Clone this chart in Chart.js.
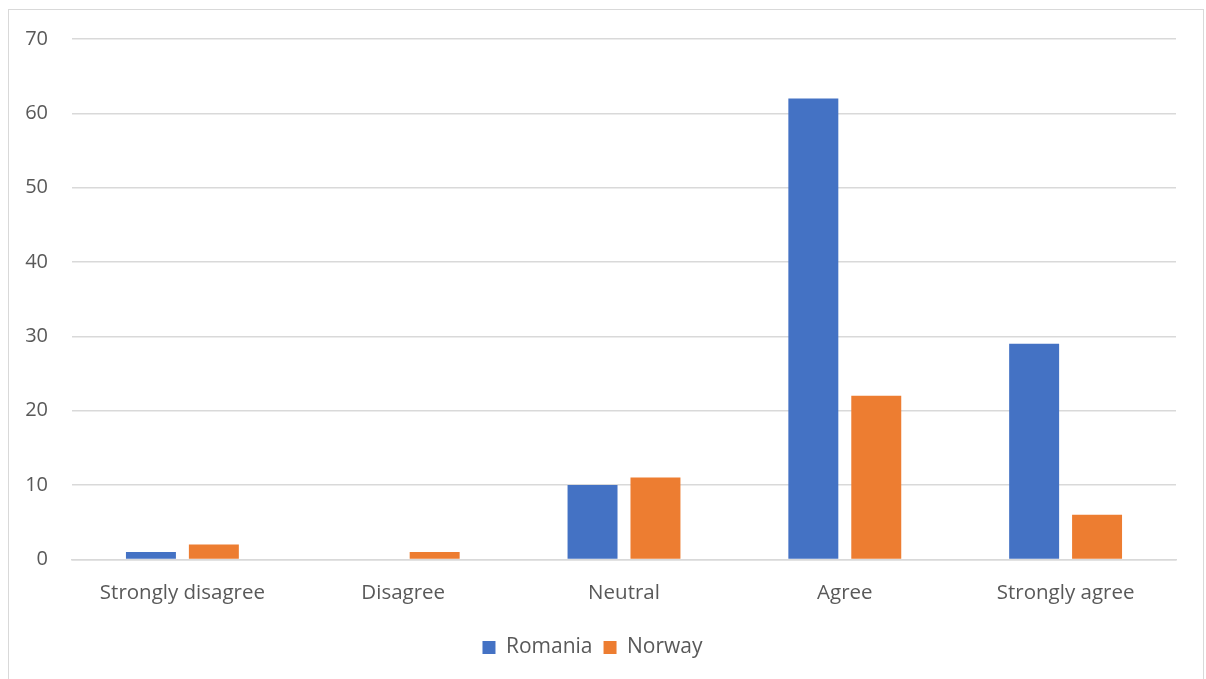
<!DOCTYPE html>
<html><head><meta charset="utf-8">
<script src="https://cdn.jsdelivr.net/npm/chart.js@4"></script>
<style>
html,body{margin:0;padding:0;background:#fff;}
#frame{position:absolute;left:8px;top:9px;width:1196px;height:670px;border:1px solid #d9d9d9;border-bottom:none;box-sizing:border-box;}
#wrap{position:absolute;left:9px;top:3px;width:1194px;height:676px;}
canvas{display:block;}
</style></head><body>
<div id="frame"></div>
<div id="wrap"><canvas id="c"></canvas></div>
<script>
const categories = ["Strongly disagree","Disagree","Neutral","Agree","Strongly agree"];
const romania = [1,0,10,62,29];
const norway = [2,1,11,22,6];
const seriesNames = ["Romania","Norway"];

const ctx = document.getElementById('c');
new Chart(ctx, {
  type: 'bar',
  data: {
    labels: categories,
    datasets: [
      {label: seriesNames[0], data: romania, backgroundColor: '#4472c4', categoryPercentage: 0.57, barPercentage: 0.794},
      {label: seriesNames[1], data: norway, backgroundColor: '#ed7d31', categoryPercentage: 0.57, barPercentage: 0.794}
    ]
  },
  options: {
    responsive: true,
    maintainAspectRatio: false,
    animation: false,
    layout: {padding: {left: 0, right: 27, top: 11, bottom: 11}},
    plugins: {
      legend: {
        position: 'bottom',
        labels: {boxWidth: 13, boxHeight: 13, color: '#595959', font: {family: 'Open Sans', size: 21}, padding: 11}
      },
      tooltip: {enabled: false}
    },
    scales: {
      x: {
        grid: {display: false, drawTicks: false},
        border: {color: '#d9d9d9', width: 1.5},
        ticks: {color: '#595959', font: {family: 'Open Sans', size: 20.5}, padding: 21}
      },
      y: {
        min: 0, max: 70,
        afterFit: s => { s.width = 63; },
        ticks: {stepSize: 10, color: '#595959', font: {family: 'Open Sans', size: 20}, padding: 24},
        grid: {color: '#d9d9d9', lineWidth: 1.5, drawTicks: false},
        border: {display: false}
      }
    }
  }
});
</script>
</body></html>
